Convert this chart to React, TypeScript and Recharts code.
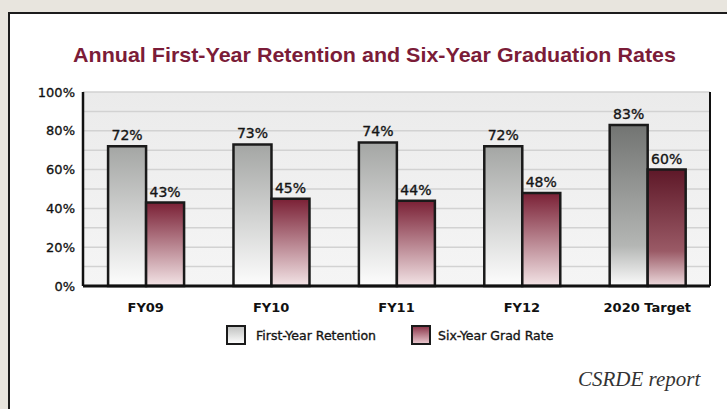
import React from "react";
import {
  Bar,
  BarChart,
  CartesianGrid,
  Cell,
  LabelList,
  Legend,
  XAxis,
  YAxis,
} from "recharts";

const categories = ["FY09", "FY10", "FY11", "FY12", "2020 Target"];
const retention = [72, 73, 74, 72, 83];
const gradRate = [43, 45, 44, 48, 60];
// gridlines every 10%, labels only every 20%
const gridValues = [0, 10, 20, 30, 40, 50, 60, 70, 80, 90, 100];
const labelStep = 20;

const seriesNames = {
  retention: "First-Year Retention",
  gradRate: "Six-Year Grad Rate",
};

const chartData = categories.map((name, i) => ({
  name,
  retention: retention[i],
  gradRate: gradRate[i],
}));

const FONT = '"DejaVu Sans", sans-serif';
const TARGET = "2020 Target";

function LegendContent({ payload }: any) {
  const items = payload ?? [];
  return (
    <div style={{ display: "flex", alignItems: "center", marginLeft: 226, fontFamily: FONT }}>
      {items.map((item: any, i: number) => {
        const isGrad = item.dataKey === "gradRate";
        return (
          <div key={item.value} style={{ display: "flex", alignItems: "center", marginLeft: i === 0 ? 0 : 35 }}>
            <div
              style={{
                width: 16,
                height: 16,
                border: "2px solid #1a1a1a",
                background: isGrad
                  ? "linear-gradient(#8e3a4e, #e6c3ca)"
                  : "linear-gradient(#c2c3c2, #fbfbfb)",
              }}
            />
            <span
              style={{
                marginLeft: isGrad ? 7 : 10,
                fontSize: 12.5,
                color: "#151515",
                WebkitTextStroke: "0.35px #151515",
              }}
            >
              {item.value}
            </span>
          </div>
        );
      })}
    </div>
  );
}

const labelStyle = {
  fill: "#151515",
  fontSize: 14,
  fontFamily: FONT,
  stroke: "#151515",
  strokeWidth: 0.35,
};

export default function App() {
  return (
    <div
      style={{
        position: "absolute",
        left: 0,
        top: 0,
        width: 727,
        height: 409,
        overflow: "hidden",
        background: "#e8e5de",
      }}
    >
      <div
        style={{
          position: "absolute",
          left: 8,
          top: 12,
          width: 800,
          height: 500,
          background: "#ffffff",
          border: "2px solid #1c1c1c",
        }}
      />
      <svg width={727} height={80} style={{ position: "absolute", left: 0, top: 0 }}>
        <text
          x={73}
          y={62}
          textLength={603}
          lengthAdjust="spacingAndGlyphs"
          fontFamily='"Liberation Sans", Arial, sans-serif'
          fontWeight="bold"
          fontSize={20.5}
          fill="#7b1c38"
        >
          Annual First-Year Retention and Six-Year Graduation Rates
        </text>
      </svg>

      <div style={{ position: "absolute", left: 0, top: 0 }}>
        <BarChart
          width={727}
          height={409}
          data={chartData}
          margin={{ top: 92, right: 15, left: 0, bottom: 93 }}
          barCategoryGap="20%"
          barGap={0}
        >
          <defs>
            <linearGradient id="plotBg" x1="0" y1="0" x2="0" y2="1">
              <stop offset="0%" stopColor="#ebebeb" />
              <stop offset="100%" stopColor="#f5f5f5" />
            </linearGradient>
            <linearGradient id="grayBar" x1="0" y1="0" x2="0" y2="1">
              <stop offset="0%" stopColor="#a4a6a4" />
              <stop offset="100%" stopColor="#fdfdfd" />
            </linearGradient>
            <linearGradient id="redBar" x1="0" y1="0" x2="0" y2="1">
              <stop offset="0%" stopColor="#7a2035" />
              <stop offset="100%" stopColor="#f3e4e6" />
            </linearGradient>
            <linearGradient id="grayTarget" x1="0" y1="0" x2="0" y2="1">
              <stop offset="0%" stopColor="#727472" />
              <stop offset="75%" stopColor="#b4b6b4" />
              <stop offset="100%" stopColor="#fbfbfb" />
            </linearGradient>
            <linearGradient id="redTarget" x1="0" y1="0" x2="0" y2="1">
              <stop offset="0%" stopColor="#5e1828" />
              <stop offset="70%" stopColor="#9a5a66" />
              <stop offset="100%" stopColor="#eddadd" />
            </linearGradient>
          </defs>
          <CartesianGrid
            vertical={false}
            stroke="#d2d2d2"
            strokeWidth={1.5}
            fill="url(#plotBg)"
            fillOpacity={1}
          />
          <XAxis
            dataKey="name"
            axisLine={{ stroke: "#111", strokeWidth: 3 }}
            tickLine={false}
            tickMargin={11}
            height={30}
            tick={{ fill: "#111", fontSize: 13, fontWeight: "bold", fontFamily: FONT }}
          />
          <YAxis
            domain={[0, 100]}
            ticks={gridValues}
            interval={0}
            tickFormatter={(v) => (v % labelStep === 0 ? `${v}%` : "")}
            axisLine={{ stroke: "#111", strokeWidth: 2.5 }}
            tickLine={false}
            width={83}
            tick={{ fill: "#111", fontSize: 13, fontFamily: FONT, stroke: "#111", strokeWidth: 0.3 }}
          />
          <YAxis
            yAxisId="right"
            orientation="right"
            domain={[0, 100]}
            tick={false}
            tickLine={false}
            axisLine={{ stroke: "#111", strokeWidth: 2 }}
            width={2}
          />
          <Legend
            layout="horizontal"
            verticalAlign="middle"
            align="center"
            content={<LegendContent />}
            wrapperStyle={{ position: "absolute", left: 0, top: 325, width: 727 }}
          />
          <Bar
            dataKey="retention"
            name={seriesNames.retention}
            stroke="#1a1a1a"
            strokeWidth={2.5}
            fill="url(#grayBar)"
            isAnimationActive={false}
          >
            {chartData.map((d) => (
              <Cell key={d.name} fill={d.name === TARGET ? "url(#grayTarget)" : "url(#grayBar)"} />
            ))}
            <LabelList
              dataKey="retention"
              position="top"
              offset={6}
              formatter={(v: any) => `${v}%`}
              style={labelStyle}
            />
          </Bar>
          <Bar
            dataKey="gradRate"
            name={seriesNames.gradRate}
            stroke="#1a1a1a"
            strokeWidth={2.5}
            fill="url(#redBar)"
            isAnimationActive={false}
          >
            {chartData.map((d) => (
              <Cell key={d.name} fill={d.name === TARGET ? "url(#redTarget)" : "url(#redBar)"} />
            ))}
            <LabelList
              dataKey="gradRate"
              position="top"
              offset={6}
              formatter={(v: any) => `${v}%`}
              style={labelStyle}
            />
          </Bar>
        </BarChart>
      </div>

      <div
        style={{
          position: "absolute",
          left: 578,
          top: 367,
          fontFamily: '"Liberation Serif", serif',
          fontStyle: "italic",
          fontSize: 21,
          color: "#333",
          whiteSpace: "nowrap",
        }}
      >
        CSRDE report
      </div>
    </div>
  );
}
